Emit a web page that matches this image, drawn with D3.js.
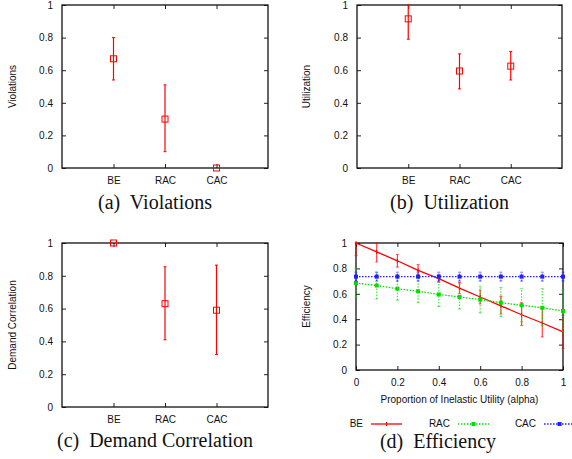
<!DOCTYPE html>
<html>
<script src="https://d3js.org/d3.v7.min.js"></script>

<head>
    <style>
        body {
            margin: 0;
            background-color: white;
        }

        svg {
            display: block;
        }

        .tick text,
        .lbl {
            font-family: "Liberation Sans", Arial, sans-serif;
            font-size: 10px;
            fill: #111;
        }

        .caption {
            font-family: "Liberation Serif", "Times New Roman", serif;
            font-size: 20px;
            fill: #111;
        }
    </style>
</head>

<body>
    <div id="vis"></div>
</body>
<script>
    // values
    const categories = ["BE", "RAC", "CAC"];

    const violationMean = [0.67, 0.30, 0.0];
    const violationLow = [0.54, 0.10, 0.0];
    const violationHigh = [0.80, 0.51, 0.0];

    const utilMean = [0.915, 0.595, 0.625];
    const utilLow = [0.79, 0.485, 0.54];
    const utilHigh = [1.0, 0.70, 0.715];

    const corrMean = [1.0, 0.63, 0.59];
    const corrLow = [1.0, 0.41, 0.32];
    const corrHigh = [1.0, 0.855, 0.865];

    const alpha = [0, 0.1, 0.2, 0.3, 0.4, 0.5, 0.6, 0.7, 0.8, 0.9, 1.0];
    const beEff = [1.0, 0.93, 0.86, 0.785, 0.72, 0.645, 0.575, 0.505, 0.435, 0.37, 0.30];
    const beLow = [0.90, 0.85, 0.81, 0.75, 0.69, 0.60, 0.52, 0.44, 0.35, 0.26, 0.17];
    const beHigh = [1.0, 1.0, 0.91, 0.83, 0.75, 0.69, 0.63, 0.58, 0.53, 0.49, 0.43];
    const racEff = [0.685, 0.665, 0.64, 0.62, 0.595, 0.575, 0.555, 0.53, 0.51, 0.49, 0.465];
    const racLow = [0.57, 0.56, 0.55, 0.53, 0.50, 0.48, 0.45, 0.42, 0.38, 0.35, 0.30];
    const racHigh = [0.80, 0.77, 0.75, 0.72, 0.70, 0.68, 0.66, 0.65, 0.64, 0.64, 0.63];
    const cacEff = [0.735, 0.735, 0.735, 0.735, 0.735, 0.735, 0.735, 0.735, 0.735, 0.735, 0.735];
    const cacLow = [0.70, 0.70, 0.70, 0.70, 0.70, 0.70, 0.70, 0.70, 0.70, 0.70, 0.70];
    const cacHigh = [0.77, 0.77, 0.77, 0.77, 0.77, 0.77, 0.77, 0.77, 0.77, 0.77, 0.77];

    const yTicks = [0, 0.2, 0.4, 0.6, 0.8, 1];
    const xTicks = [0, 0.2, 0.4, 0.6, 0.8, 1];

    const width = 572,
        height = 459;
    const svg = d3.select("#vis").append("svg").attr("width", width).attr("height", height);

    const fmt = d => d === 0 || d === 1 ? String(d) : d3.format(".1f")(d);

    // gnuplot-style frame: inward ticks, mirrored on the opposite side
    function frame(g, x, y, xTickVals, xFmt) {
        const [x0, x1] = x.range();
        const [y0, y1] = y.range();
        g.append("g").attr("transform", `translate(${x0},0)`)
            .call(d3.axisLeft(y).tickValues(yTicks).tickSize(-4).tickPadding(9).tickFormat(fmt));
        g.append("g").attr("transform", `translate(${x1},0)`)
            .call(d3.axisRight(y).tickValues(yTicks).tickSize(-4).tickFormat(""));
        g.append("g").attr("transform", `translate(0,${y0})`)
            .call(d3.axisBottom(x).tickValues(xTickVals).tickSize(-4).tickPadding(9).tickFormat(xFmt));
        g.append("g").attr("transform", `translate(0,${y1})`)
            .call(d3.axisTop(x).tickValues(xTickVals).tickSize(-4).tickFormat(""));
        g.selectAll(".domain").remove();
        g.selectAll(".tick line").attr("stroke", "#222");
        g.append("rect")
            .attr("x", x0).attr("y", y1)
            .attr("width", x1 - x0).attr("height", y0 - y1)
            .attr("fill", "none").attr("stroke", "#111").attr("stroke-width", 1.3);
    }

    function yLabel(text, cx, cy) {
        svg.append("text").attr("class", "lbl")
            .attr("transform", `translate(${cx},${cy}) rotate(-90)`)
            .attr("text-anchor", "middle").attr("dominant-baseline", "middle")
            .text(text);
    }

    function caption(text, cx, cy) {
        svg.append("text").attr("class", "caption")
            .attr("x", cx).attr("y", cy).attr("text-anchor", "middle")
            .attr("xml:space", "preserve")
            .text(text);
    }

    function drawCategoryPanel(box, mean, low, high, label, labelX, cap, capY) {
        const x = d3.scaleLinear().domain([0, 4]).range([box.left, box.right]);
        const y = d3.scaleLinear().domain([0, 1]).range([box.bottom, box.top]);
        const g = svg.append("g");
        frame(g, x, y, [1, 2, 3], d => categories[d - 1]);
        const data = categories.map((c, i) => ({ i: i + 1, m: mean[i], lo: low[i], hi: high[i] }));
        const pts = g.append("g");
        pts.selectAll(".err").data(data).join("line")
            .attr("x1", d => x(d.i)).attr("x2", d => x(d.i))
            .attr("y1", d => y(d.lo)).attr("y2", d => y(d.hi))
            .attr("stroke", "red").attr("stroke-width", 1.2);
        pts.selectAll(".capLo").data(data.filter(d => d.hi > d.lo)).join("line")
            .attr("x1", d => x(d.i) - 1.5).attr("x2", d => x(d.i) + 1.5)
            .attr("y1", d => y(d.lo)).attr("y2", d => y(d.lo))
            .attr("stroke", "red");
        pts.selectAll(".capHi").data(data.filter(d => d.hi > d.lo)).join("line")
            .attr("x1", d => x(d.i) - 1.5).attr("x2", d => x(d.i) + 1.5)
            .attr("y1", d => y(d.hi)).attr("y2", d => y(d.hi))
            .attr("stroke", "red");
        pts.selectAll("rect").data(data).join("rect")
            .attr("x", d => x(d.i) - 3).attr("y", d => y(d.m) - 3)
            .attr("width", 6).attr("height", 6)
            .attr("fill", "none").attr("stroke", "red").attr("stroke-width", 1);
        yLabel(label, labelX, (box.top + box.bottom) / 2);
        caption(cap, (box.left + box.right) / 2 - 10, capY);
    }

    drawCategoryPanel({ left: 62, right: 268, top: 5, bottom: 168 },
        violationMean, violationLow, violationHigh, "Violations", 13, "(a)  Violations", 209);
    drawCategoryPanel({ left: 357, right: 562, top: 5, bottom: 168 },
        utilMean, utilLow, utilHigh, "Utilization", 307, "(b)  Utilization", 209);
    drawCategoryPanel({ left: 62, right: 268, top: 243, bottom: 407 },
        corrMean, corrLow, corrHigh, "Demand Correlation", 13, "(c)  Demand Correlation", 447);

    // (d) efficiency vs alpha
    function drawEfficiency() {
        const box = { left: 356, right: 563, top: 243, bottom: 370 };
        const x = d3.scaleLinear().domain([0, 1]).range([box.left, box.right]);
        const y = d3.scaleLinear().domain([0, 1]).range([box.bottom, box.top]);
        const g = svg.append("g");
        frame(g, x, y, xTicks, fmt);
        const series = [
            { name: "BE", mean: beEff, lo: beLow, hi: beHigh, color: "#ff0000", dash: null, mark: "plus" },
            { name: "RAC", mean: racEff, lo: racLow, hi: racHigh, color: "#00e000", dash: "1.5,1.5", mark: "square" },
            { name: "CAC", mean: cacEff, lo: cacLow, hi: cacHigh, color: "#2020ff", dash: "1.5,1.5", mark: "square" }
        ];
        const line = d3.line().x(d => x(d.a)).y(d => y(d.m));
        const legendX = [363, 450, 536];
        series.forEach((s, k) => {
            const data = alpha.map((a, i) => ({ a: a, m: s.mean[i], lo: s.lo[i], hi: s.hi[i] }));
            const sg = g.append("g");
            sg.selectAll(".err").data(data).join("line")
                .attr("x1", d => x(d.a)).attr("x2", d => x(d.a))
                .attr("y1", d => y(d.lo)).attr("y2", d => y(d.hi))
                .attr("stroke", s.color).attr("stroke-opacity", 0.75)
                .attr("stroke-dasharray", s.dash).attr("stroke-width", 1.2);
            ["lo", "hi"].forEach(key => {
                sg.selectAll(".cap" + key).data(data).join("line")
                    .attr("x1", d => x(d.a) - 1.5).attr("x2", d => x(d.a) + 1.5)
                    .attr("y1", d => y(d[key])).attr("y2", d => y(d[key]))
                    .attr("stroke", s.color).attr("stroke-opacity", 0.6);
            });
            sg.append("path").datum(data)
                .attr("d", line).attr("fill", "none")
                .attr("stroke", s.color).attr("stroke-width", 1.3)
                .attr("stroke-dasharray", s.dash);
            if (s.mark === "square") {
                sg.selectAll(".pt").data(data).join("rect")
                    .attr("x", d => x(d.a) - 2).attr("y", d => y(d.m) - 2)
                    .attr("width", 4).attr("height", 4).attr("fill", s.color);
            } else {
                sg.selectAll(".pt").data(data).join("line")
                    .attr("x1", d => x(d.a)).attr("x2", d => x(d.a))
                    .attr("y1", d => y(d.m) - 2).attr("y2", d => y(d.m) + 2)
                    .attr("stroke", s.color);
            }
            // legend entry
            const lx = legendX[k], ly = 424;
            svg.append("text").attr("class", "lbl")
                .attr("x", lx).attr("y", ly).attr("text-anchor", "end")
                .attr("dominant-baseline", "middle").text(s.name);
            svg.append("line")
                .attr("x1", lx + 8).attr("x2", lx + 39).attr("y1", ly).attr("y2", ly)
                .attr("stroke", s.color).attr("stroke-width", 1.3).attr("stroke-dasharray", s.dash);
            if (s.mark === "square") {
                svg.append("rect").attr("x", lx + 21.5).attr("y", ly - 2)
                    .attr("width", 4).attr("height", 4).attr("fill", s.color);
            } else {
                svg.append("line").attr("x1", lx + 23.5).attr("x2", lx + 23.5)
                    .attr("y1", ly - 2).attr("y2", ly + 2).attr("stroke", s.color);
            }
        });
        yLabel("Efficiency", 307, (box.top + box.bottom) / 2);
        svg.append("text").attr("class", "lbl")
            .attr("x", (box.left + box.right) / 2).attr("y", 400)
            .attr("text-anchor", "middle").attr("dominant-baseline", "middle")
            .text("Proportion of Inelastic Utility (alpha)");
        caption("(d)  Efficiency", 438, 448);
    }

    drawEfficiency();
</script>

</html>
